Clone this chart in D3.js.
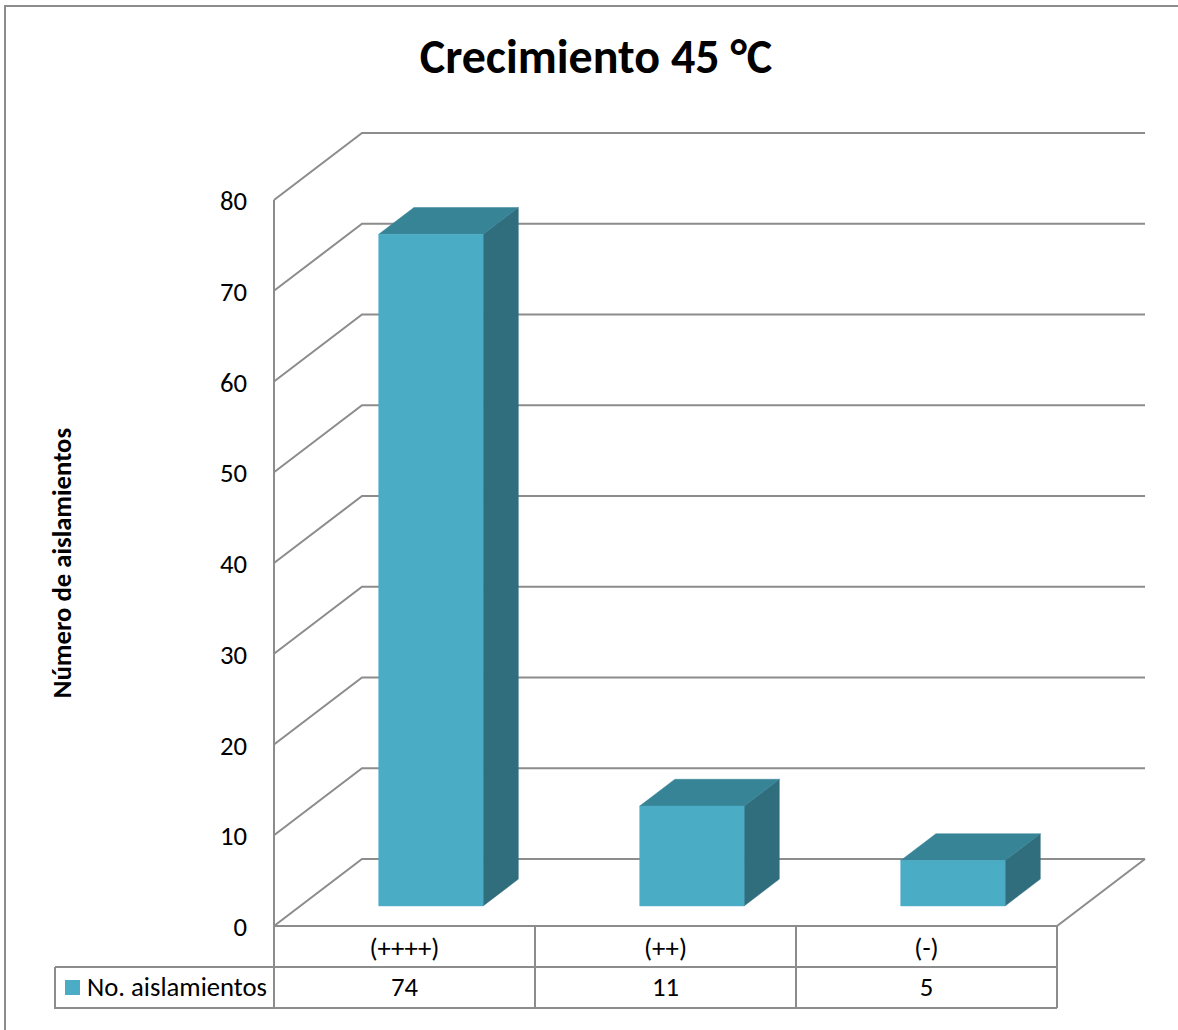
<!DOCTYPE html>
<html>
<head>
<meta charset="utf-8">
<script src="https://cdn.jsdelivr.net/npm/d3@7"></script>
<style>
  html, body { margin: 0; padding: 0; background: #fff; }
  svg { display: block; }
  text { font-family: Carlito, Lato, "Noto Sans", sans-serif; fill: #000; }
</style>
</head>
<body>
<svg id="chart" width="1178" height="1030"></svg>
<script>
// Chart data
const categories = ["(++++)", "(++)", "(-)"];
const seriesName = "No. aislamientos";
const values = [74, 11, 5];
const yTicks = [0, 10, 20, 30, 40, 50, 60, 70, 80];
const titleText = "Crecimiento 45 °C";
const yAxisTitle = "Número de aislamientos";

const svg = d3.select("#chart");

// Layout of the 3D plot box
const origin = { x: 274, y: 926 };   // front-left-bottom corner
const plotW = 783;                    // front floor width
const plotH = 726;                    // wall height (0..80)
const depth = { dx: 88, dy: -67 };    // full depth offset of back wall
const barZ0 = 0.3, barZ1 = 0.7;       // bar depth extent (fraction of floor depth)

const gridColor = "#8c8c8c";
const colFront = "#4BACC6";
const colTop = "#378497";
const colSide = "#306D7D";
const labelSize = 26.7;

const y = d3.scaleLinear().domain([0, 80]).range([0, plotH]);
const x = d3.scaleBand().domain(categories).range([0, plotW]).padding(0);
const barW = x.bandwidth() * 0.4;

// Project (horizontal offset, value, depth fraction) to screen
function P(px, v, z) {
  return [origin.x + px + z * depth.dx, origin.y - y(v) + z * depth.dy];
}
const line = d3.line();

// Outer chart border
svg.append("rect")
  .attr("x", 5).attr("y", 6).attr("width", 1200).attr("height", 1100)
  .attr("fill", "none").attr("stroke", gridColor).attr("stroke-width", 2);

// Title
svg.append("text")
  .attr("x", 596).attr("y", 73)
  .attr("text-anchor", "middle")
  .attr("font-size", 48).attr("font-weight", "bold")
  .text(titleText);

// Walls and gridlines
const grid = svg.append("g").attr("fill", "none").attr("stroke", gridColor).attr("stroke-width", 2);
yTicks.forEach(t => {
  grid.append("path").attr("d", line([P(0, t, 0), P(0, t, 1), P(plotW, t, 1)]));
});
// floor right and front edges
grid.append("path").attr("d", line([P(plotW, 0, 1), P(plotW, 0, 0), P(0, 0, 0)]));
// left wall front edge
grid.append("path").attr("d", line([P(0, 0, 0), P(0, 80, 0)]));

// Y tick labels
svg.append("g").selectAll("text").data(yTicks).join("text")
  .attr("x", 247)
  .attr("y", d => origin.y - y(d) + 10)
  .attr("text-anchor", "end")
  .attr("font-size", labelSize)
  .text(d => d);

// Y axis title
svg.append("text")
  .attr("transform", "translate(71,563) rotate(-90)")
  .attr("text-anchor", "middle")
  .attr("font-size", labelSize).attr("font-weight", "bold")
  .text(yAxisTitle);

// Bars (3D boxes)
const bars = svg.append("g");
categories.forEach((c, i) => {
  const v = values[i];
  const x0 = x(c) + (x.bandwidth() - barW) / 2;
  const x1 = x0 + barW;
  const g = bars.append("g");
  // right side
  g.append("path").attr("fill", colSide).attr("stroke", colSide).attr("stroke-width", 0.5)
    .attr("d", line([P(x1, 0, barZ0), P(x1, 0, barZ1), P(x1, v, barZ1), P(x1, v, barZ0)]) + "Z");
  // top
  g.append("path").attr("fill", colTop).attr("stroke", colTop).attr("stroke-width", 0.5)
    .attr("d", line([P(x0, v, barZ0), P(x0, v, barZ1), P(x1, v, barZ1), P(x1, v, barZ0)]) + "Z");
  // front
  g.append("path").attr("fill", colFront).attr("stroke", colFront).attr("stroke-width", 0.5)
    .attr("d", line([P(x0, 0, barZ0), P(x1, 0, barZ0), P(x1, v, barZ0), P(x0, v, barZ0)]) + "Z");
});

// Data table below the plot
const rowH = 41;
const tableTop = origin.y;
const legendLeft = 55;
const tbl = svg.append("g").attr("fill", "none").attr("stroke", gridColor).attr("stroke-width", 2);
tbl.append("path").attr("d", line([[origin.x, tableTop + rowH], [origin.x + plotW, tableTop + rowH]]));
tbl.append("path").attr("d", line([[legendLeft, tableTop + rowH], [legendLeft, tableTop + 2 * rowH], [origin.x + plotW, tableTop + 2 * rowH]]));
tbl.append("path").attr("d", line([[legendLeft, tableTop + rowH], [origin.x, tableTop + rowH]]));
[0, 1, 2, 3].forEach(k => {
  const xx = origin.x + (k < 3 ? x(categories[k]) : plotW);
  tbl.append("path").attr("d", line([[xx, tableTop], [xx, tableTop + 2 * rowH]]));
});

// Category labels row
svg.append("g").selectAll("text").data(categories).join("text")
  .attr("x", d => origin.x + x(d) + x.bandwidth() / 2)
  .attr("y", tableTop + 31)
  .attr("text-anchor", "middle")
  .attr("font-size", labelSize)
  .text(d => d);

// Values row
svg.append("g").selectAll("text").data(values).join("text")
  .attr("x", (d, i) => origin.x + x(categories[i]) + x.bandwidth() / 2)
  .attr("y", tableTop + rowH + 29)
  .attr("text-anchor", "middle")
  .attr("font-size", labelSize)
  .text(d => d);

// Legend key in table
svg.append("rect")
  .attr("x", 65).attr("y", tableTop + rowH + 13).attr("width", 15).attr("height", 15)
  .attr("fill", colFront);
svg.append("text")
  .attr("x", 87).attr("y", tableTop + rowH + 29)
  .attr("font-size", labelSize)
  .text(seriesName);
</script>
</body>
</html>
